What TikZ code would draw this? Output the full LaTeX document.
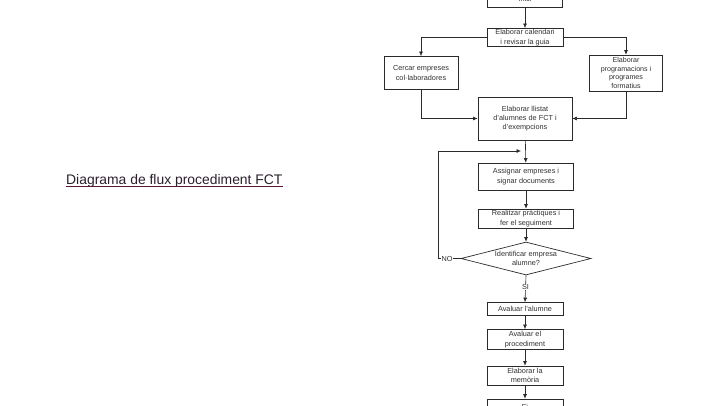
\documentclass[tikz,border=0pt]{standalone}
\usepackage{fontspec}
\setmainfont{Liberation Sans}
\usetikzlibrary{arrows.meta,shapes.geometric}
\definecolor{linecol}{HTML}{2A2A2A}
\definecolor{txtcol}{HTML}{303030}
\definecolor{titlecol}{HTML}{2B1F2C}
\definecolor{ulcol}{HTML}{5A1838}
\begin{document}
\begin{tikzpicture}[x=1pt,y=-1pt,
  box/.style={draw=linecol,line width=0.7pt,rectangle,inner sep=1pt,align=center,
    font=\fontsize{7.3}{9.3}\selectfont,text=txtcol},
  dec/.style={draw=linecol,line width=0.7pt,diamond,aspect=3.9,inner sep=0pt,align=center,
    font=\fontsize{7.3}{9.3}\selectfont,text=txtcol,minimum width=130pt,minimum height=33pt},
  conn/.style={draw=linecol,line width=0.6pt,-{Latex[length=4.5pt,width=4pt]}},
  plain/.style={draw=linecol,line width=0.6pt},
  lbl/.style={fill=white,inner sep=0.5pt,font=\fontsize{7.3}{9}\selectfont,text=txtcol}]
\useasboundingbox (0,0) rectangle (720,405);
% title
\node[anchor=base west,inner sep=0pt,text=titlecol,font=\fontsize{13.9}{16}\selectfont] (title) at (66,184.5) {Diagrama de flux procediment FCT};
\draw[ulcol,line width=0.9pt] (title.base west) ++(0,2.2) coordinate (ul1) -- (title.base east |- ul1);
% boxes
\node[box,minimum width=75pt,minimum height=16pt] (b1) at (525,-1) {Inici};
\node[box,minimum width=76pt,minimum height=17pt] (b2) at (525,37.5) {Elaborar calendari\\i revisar la guia};
\node[box,minimum width=74pt,minimum height=33pt] (b3) at (421,73) {Cercar empreses\\col·laboradores};
\node[box,minimum width=73pt,minimum height=36pt,font=\fontsize{7.1}{8.6}\selectfont,inner sep=0.5pt] (b4) at (626,73) {Elaborar\\programacions i\\programes\\formatius};
\node[box,minimum width=94pt,minimum height=43pt] (b5) at (525,118.5) {Elaborar llistat\\d'alumnes de FCT i\\d'exempcions};
\node[box,minimum width=95pt,minimum height=27pt] (b6) at (526,176.5) {Assignar empreses i\\signar documents};
\node[box,minimum width=95pt,minimum height=19pt] (b7) at (526,218.5) {Realitzar pràctiques i\\fer el seguiment};
\node[dec] (d1) at (526,258.5) {Identificar empresa\\alumne?};
\node[box,minimum width=76pt,minimum height=13pt] (b8) at (525,309) {Avaluar l'alumne};
\node[box,minimum width=76pt,minimum height=20pt] (b9) at (525,339.5) {Avaluar el\\procediment};
\node[box,minimum width=76pt,minimum height=19pt] (b10) at (525,375.5) {Elaborar la\\memòria};
\node[box,minimum width=76pt,minimum height=16pt] (b11) at (525,407) {Fi};
% connectors
\draw[conn] (b1) -- (b2);
\draw[conn] (b2.west) -| (b3.north);
\draw[conn] (b2.east) -| (b4.north);
\draw[conn] (b3.south) |- (b5.west);
\draw[conn] (b4.south) |- (b5.east);
\draw[conn] (b5) -- (b6);
\draw[conn] (b6) -- (b7);
\draw[conn] (b7) -- (d1.north);
\coordinate (lp1) at (438,258.5);
\coordinate (lp2) at (438,151);
\coordinate (lp3) at (521,151);
\draw[plain] (d1.west) -- (lp1) -- (lp2);
\draw[conn] (lp2) -- (lp3);
\node[lbl] (no) at (447,258.5) {NO};
\draw[conn] (d1.south) -- (b8.north);
\node[lbl] (si) at (525.5,287) {SI};
\draw[conn] (b8) -- (b9);
\draw[conn] (b9) -- (b10);
\draw[conn] (b10) -- (b11);
\end{tikzpicture}
\end{document}
